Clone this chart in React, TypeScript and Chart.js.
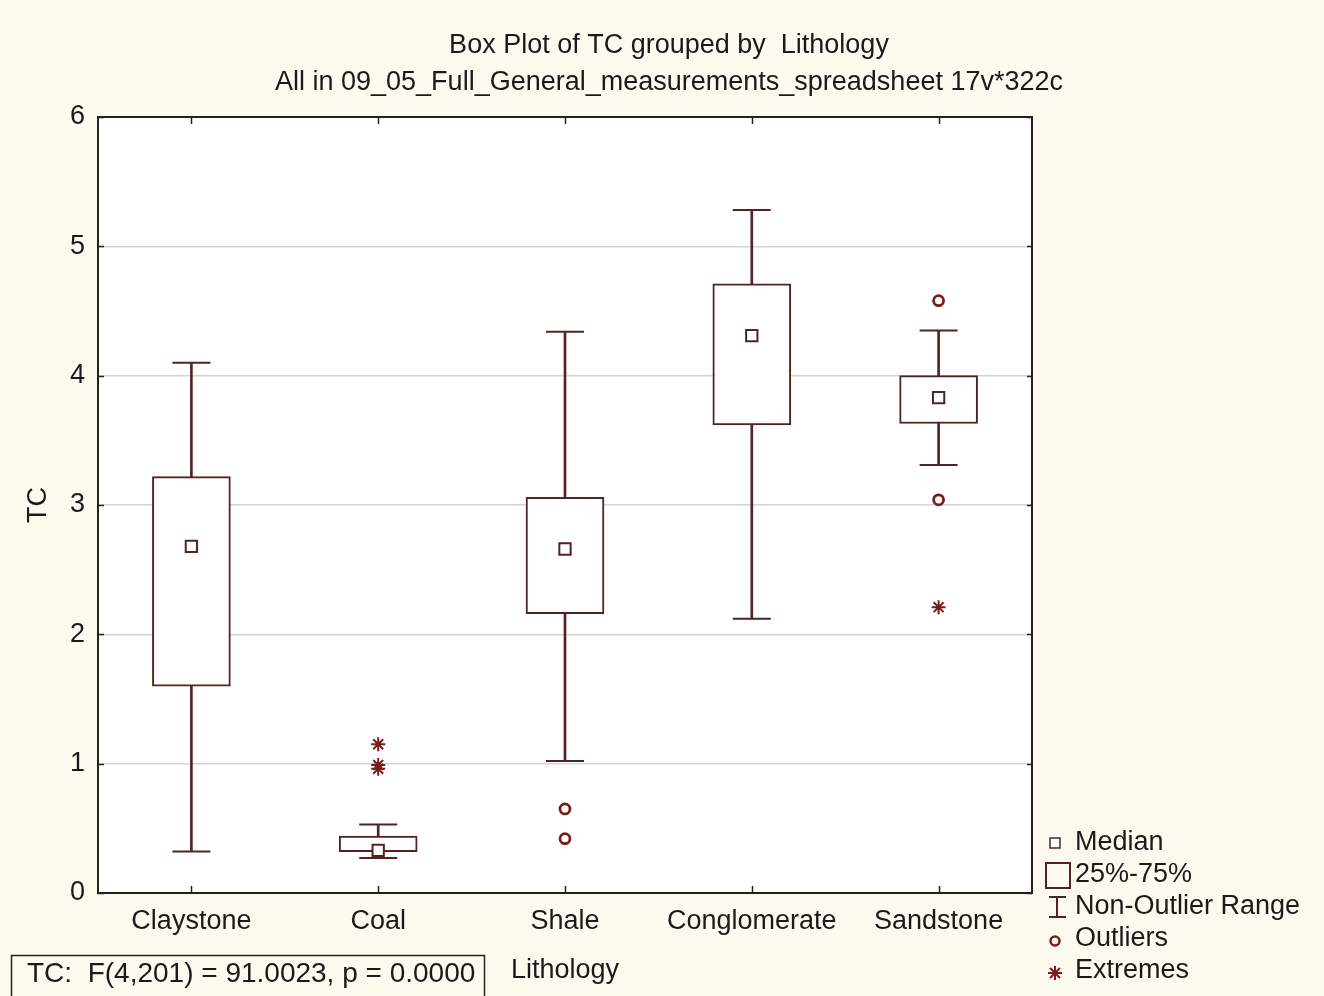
import { useEffect, useRef } from 'react';
import { Chart, registerables } from 'chart.js';

Chart.register(...registerables);

// Lithology groups and their TC summary statistics
const categories = ['Claystone', 'Coal', 'Shale', 'Conglomerate', 'Sandstone'];
const whiskerLow = [0.32, 0.27, 1.02, 2.12, 3.31];
const quartile1 = [1.6, 0.32, 2.16, 3.62, 3.63];
const medians = [2.68, 0.33, 2.66, 4.31, 3.83];
const quartile3 = [3.22, 0.44, 3.06, 4.71, 4.0];
const whiskerHigh = [4.1, 0.53, 4.34, 5.28, 4.35];

const outlierGroups = ['Shale', 'Shale', 'Sandstone', 'Sandstone'];
const outlierValues = [0.65, 0.42, 4.58, 3.04];
const extremeGroups = ['Coal', 'Coal', 'Coal', 'Sandstone'];
const extremeValues = [1.15, 0.99, 0.96, 2.21];

const yTicks = [0, 1, 2, 3, 4, 5, 6];

const titleLines = [
  'Box Plot of TC grouped by  Lithology',
  'All in 09_05_Full_General_measurements_spreadsheet 17v*322c',
];
const statsText = 'TC:  F(4,201) = 91.0023, p = 0.0000';
const legendItems = ['Median', '25%-75%', 'Non-Outlier Range', 'Outliers', 'Extremes'];

const FONT = '"Liberation Sans", Arial, sans-serif';
const LINE = '#552222';
const MARK = '#7a1c1c';
const TEXT = '#1a1a1a';
const PAGE_BG = '#fcf9ef';

const decorPlugin = {
  id: 'decor',
  beforeDraw(chart: any) {
    const { ctx, width, height, chartArea: a } = chart;
    ctx.save();
    ctx.fillStyle = PAGE_BG;
    ctx.fillRect(0, 0, width, height);
    ctx.fillStyle = '#ffffff';
    ctx.fillRect(a.left, a.top, a.right - a.left, a.bottom - a.top);
    ctx.restore();
  },
  afterDraw(chart: any) {
    const { ctx, chartArea: a, scales } = chart;
    const xs = scales.x;
    const ys = scales.y;
    ctx.save();

    // plot frame
    ctx.strokeStyle = '#222222';
    ctx.lineWidth = 2;
    ctx.strokeRect(a.left, a.top, a.right - a.left, a.bottom - a.top);

    // inward tick marks on all four sides
    ctx.lineWidth = 1.5;
    ctx.beginPath();
    yTicks.forEach((v) => {
      const py = Math.round(ys.getPixelForValue(v)) + 0.5;
      ctx.moveTo(a.left, py);
      ctx.lineTo(a.left + 6, py);
      ctx.moveTo(a.right - 5, py);
      ctx.lineTo(a.right, py);
    });
    categories.forEach((_, i) => {
      const px = Math.round(xs.getPixelForValue(i)) + 0.5;
      ctx.moveTo(px, a.top);
      ctx.lineTo(px, a.top + 7);
      ctx.moveTo(px, a.bottom - 7);
      ctx.lineTo(px, a.bottom);
    });
    ctx.stroke();

    // titles
    ctx.fillStyle = TEXT;
    ctx.font = `27px ${FONT}`;
    ctx.textAlign = 'center';
    ctx.textBaseline = 'middle';
    ctx.fillText(titleLines[0], 669, 46);
    ctx.fillText(titleLines[1], 669, 83);

    // statistics box
    ctx.textAlign = 'left';
    ctx.font = `28px ${FONT}`;
    ctx.fillText(statsText, 27, 974);
    ctx.strokeStyle = '#222222';
    ctx.lineWidth = 1.5;
    ctx.strokeRect(11.5, 955.5, 473, 60);

    // legend
    const lx = 1055;
    const rowY = [843, 875, 907, 939, 971];
    ctx.strokeStyle = LINE;
    ctx.fillStyle = '#ffffff';
    ctx.lineWidth = 1.5;
    ctx.fillRect(lx - 5, rowY[0] - 5, 10, 10);
    ctx.strokeRect(lx - 5, rowY[0] - 5, 10, 10);
    ctx.lineWidth = 2;
    ctx.strokeRect(1046, rowY[1] - 12, 24, 25);
    ctx.beginPath();
    ctx.moveTo(1057, rowY[2] - 10);
    ctx.lineTo(1057, rowY[2] + 10);
    ctx.moveTo(1049, rowY[2] - 10);
    ctx.lineTo(1066, rowY[2] - 10);
    ctx.moveTo(1049, rowY[2] + 10);
    ctx.lineTo(1066, rowY[2] + 10);
    ctx.stroke();
    ctx.strokeStyle = MARK;
    ctx.lineWidth = 2.5;
    ctx.beginPath();
    ctx.arc(lx, rowY[3] + 2, 4.5, 0, Math.PI * 2);
    ctx.stroke();
    ctx.lineWidth = 2;
    ctx.beginPath();
    for (let k = 0; k < 4; k++) {
      const ang = (k * Math.PI) / 4;
      const dx = Math.cos(ang) * 7;
      const dy = Math.sin(ang) * 7;
      ctx.moveTo(lx - dx, rowY[4] + 2 - dy);
      ctx.lineTo(lx + dx, rowY[4] + 2 + dy);
    }
    ctx.stroke();

    ctx.fillStyle = TEXT;
    ctx.font = `27px ${FONT}`;
    legendItems.forEach((t, i) => ctx.fillText(t, 1075, rowY[i]));

    ctx.restore();
  },
};

export default function App() {
  const canvasRef = useRef<HTMLCanvasElement | null>(null);

  useEffect(() => {
    document.body.style.margin = '0';
    document.body.style.background = PAGE_BG;
    const canvas = canvasRef.current;
    if (!canvas) return;

    const capPoints: { x: string; y: number }[] = [];
    categories.forEach((c, i) => {
      capPoints.push({ x: c, y: whiskerLow[i] });
      capPoints.push({ x: c, y: whiskerHigh[i] });
    });

    const chart = new Chart(canvas, {
      type: 'bar',
      data: {
        labels: categories,
        datasets: [
          {
            type: 'line',
            label: 'Median',
            data: categories.map((c, i) => ({ x: c, y: medians[i] })),
            showLine: false,
            pointStyle: 'rect',
            pointRadius: 8,
            pointBorderWidth: 2,
            pointBorderColor: LINE,
            pointBackgroundColor: '#ffffff',
            order: 0,
          } as any,
          {
            type: 'line',
            label: 'Outliers',
            data: outlierGroups.map((c, i) => ({ x: c, y: outlierValues[i] })),
            showLine: false,
            pointStyle: 'circle',
            pointRadius: 5,
            pointBorderWidth: 2.8,
            pointBorderColor: MARK,
            pointBackgroundColor: '#ffffff',
            order: 0,
          } as any,
          {
            type: 'line',
            label: 'Extremes',
            data: extremeGroups.map((c, i) => ({ x: c, y: extremeValues[i] })),
            showLine: false,
            pointStyle: 'star',
            pointRadius: 7,
            pointBorderWidth: 2,
            pointBorderColor: MARK,
            pointBackgroundColor: MARK,
            order: 0,
          } as any,
          {
            type: 'bar',
            label: '25%-75%',
            data: categories.map((_, i) => [quartile1[i], quartile3[i]]),
            backgroundColor: '#ffffff',
            borderColor: LINE,
            borderWidth: 2,
            borderSkipped: false,
            barThickness: 78,
            grouped: false,
            order: 1,
          } as any,
          {
            type: 'line',
            label: 'Whisker caps',
            data: capPoints,
            showLine: false,
            pointStyle: 'line',
            pointRadius: 19,
            pointBorderWidth: 2,
            pointBorderColor: LINE,
            order: 2,
          } as any,
          {
            type: 'bar',
            label: 'Non-Outlier Range',
            data: categories.map((_, i) => [whiskerLow[i], whiskerHigh[i]]),
            backgroundColor: LINE,
            borderWidth: 0,
            barThickness: 2,
            grouped: false,
            order: 3,
          } as any,
        ],
      },
      options: {
        responsive: false,
        animation: false,
        layout: { padding: { top: 117, right: 292, bottom: 0, left: 0 } },
        plugins: {
          legend: { display: false },
          tooltip: { enabled: false },
          title: { display: false },
        },
        scales: {
          x: {
            type: 'category',
            grid: { display: false, drawTicks: false },
            border: { display: false },
            ticks: { color: TEXT, font: { family: FONT, size: 27 }, padding: 12 },
            title: {
              display: true,
              text: 'Lithology',
              color: TEXT,
              font: { family: FONT, size: 27 },
              padding: { top: 0, bottom: 9 },
            },
            afterFit: (s: any) => {
              s.height = 103;
            },
          },
          y: {
            min: 0,
            max: 6,
            ticks: {
              stepSize: 1,
              color: TEXT,
              font: { family: FONT, size: 27 },
              padding: 13,
            },
            grid: { color: '#d4d4d4', lineWidth: 1.5, drawTicks: false },
            border: { display: false },
            title: {
              display: true,
              text: 'TC',
              color: TEXT,
              font: { family: FONT, size: 27 },
              padding: { top: 22, bottom: 0 },
            },
            afterFit: (s: any) => {
              s.width = 98;
            },
          },
        },
      } as any,
      plugins: [decorPlugin],
    });

    return () => chart.destroy();
  }, []);

  return (
    <div style={{ width: 1324, height: 996, overflow: 'hidden' }}>
      <canvas ref={canvasRef} width={1324} height={996} style={{ display: 'block' }} />
    </div>
  );
}
